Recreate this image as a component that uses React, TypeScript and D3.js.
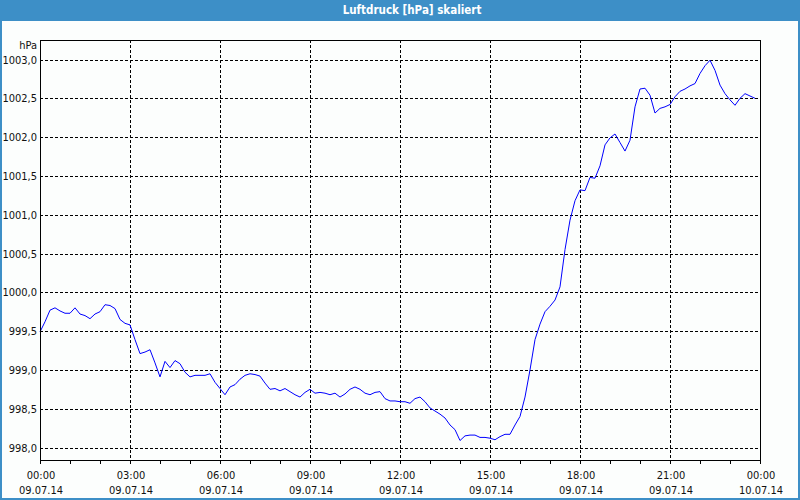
import { useEffect, useRef } from "react";
import * as d3 from "d3";

// Luftdruck, 10-minute readings from 09.07.14 00:00
const startTime = new Date(2014, 6, 9, 0, 0);
const endTime = new Date(2014, 6, 10, 0, 0);
const stepMinutes = 10;
const pressure = [
  999.49, 999.62, 999.77, 999.8, 999.76, 999.73, 999.73, 999.8, 999.72, 999.7,
  999.66, 999.72, 999.75, 999.84, 999.83, 999.79, 999.65, 999.6, 999.58, 999.39,
  999.21, 999.23, 999.26, 999.09, 998.91, 999.11, 999.03, 999.12, 999.08, 998.97,
  998.91, 998.93, 998.93, 998.93, 998.95, 998.84, 998.76, 998.68, 998.78, 998.81,
  998.88, 998.93, 998.95, 998.94, 998.92, 998.83, 998.75, 998.76, 998.73, 998.76,
  998.72, 998.68, 998.65, 998.71, 998.75, 998.7, 998.71, 998.7, 998.68, 998.7,
  998.65, 998.69, 998.75, 998.78, 998.75, 998.7, 998.68, 998.71, 998.72, 998.63,
  998.6, 998.6, 998.59, 998.59, 998.57, 998.63, 998.65, 998.59, 998.51, 998.47,
  998.43, 998.38, 998.29, 998.23, 998.09, 998.15, 998.16, 998.16, 998.13, 998.13,
  998.12, 998.1, 998.14, 998.17, 998.17, 998.29, 998.4, 998.65, 999.0, 999.39,
  999.59, 999.75, 999.82, 999.9, 1000.07, 1000.55, 1000.93, 1001.18, 1001.32, 1001.31,
  1001.48, 1001.47, 1001.63, 1001.9, 1001.99, 1002.04, 1001.93, 1001.82, 1001.96, 1002.39,
  1002.62, 1002.63, 1002.54, 1002.31, 1002.37, 1002.39, 1002.42, 1002.52, 1002.59, 1002.62,
  1002.66, 1002.69, 1002.82, 1002.92, 1002.99, 1002.86, 1002.67, 1002.56, 1002.48, 1002.41,
  1002.5, 1002.56, 1002.53, 1002.5,
];
const yTicks = [998.0, 998.5, 999.0, 999.5, 1000.0, 1000.5, 1001.0, 1001.5, 1002.0, 1002.5, 1003.0];

const FONT = "'DejaVu Sans Condensed', 'DejaVu Sans', sans-serif";
const BLUE = "#3d8fc7";

export default function App() {
  const svgRef = useRef<SVGSVGElement>(null);

  useEffect(() => {
    if (!svgRef.current) return;
    const W = 800, H = 500;
    const left = 40, right = 760, top = 40, bottom = 460;

    const svg = d3.select(svgRef.current);
    svg.selectAll("*").remove();

    // window frame + title bar
    svg.append("rect").attr("width", W).attr("height", H).attr("fill", BLUE);
    svg.append("rect").attr("x", 2).attr("y", 21).attr("width", W - 4).attr("height", H - 23).attr("fill", "#fcfefd");
    svg.append("text")
      .attr("x", 412).attr("y", 14)
      .attr("text-anchor", "middle")
      .attr("fill", "#fff")
      .attr("font-family", FONT)
      .attr("font-size", 11.5)
      .attr("font-weight", "bold")
      .text("Luftdruck [hPa] skaliert");

    const x = d3.scaleTime().domain([startTime, endTime]).range([left, right]);
    const y = d3.scaleLinear().domain([998, 1003]).range([447.5, 59.5]);

    const g = svg.append("g");

    // grid
    g.selectAll(".hgrid")
      .data(yTicks)
      .enter()
      .append("line")
      .attr("x1", left).attr("x2", right)
      .attr("y1", d => Math.round(y(d)) + 0.5).attr("y2", d => Math.round(y(d)) + 0.5)
      .attr("stroke", "#000").attr("stroke-dasharray", "3,2");

    const majors = d3.timeHour.every(3)!.range(startTime, d3.timeMinute.offset(endTime, 1));
    g.selectAll(".vgrid")
      .data(majors.filter(d => +d > +startTime && +d < +endTime))
      .enter()
      .append("line")
      .attr("x1", d => Math.round(x(d)) + 0.5).attr("x2", d => Math.round(x(d)) + 0.5)
      .attr("y1", top).attr("y2", bottom)
      .attr("stroke", "#000").attr("stroke-dasharray", "3,2");

    // line
    const line = d3.line<number>()
      .x((_, i) => x(d3.timeMinute.offset(startTime, i * stepMinutes)))
      .y(d => y(d));
    g.append("path")
      .datum(pressure)
      .attr("d", line)
      .attr("fill", "none")
      .attr("stroke", "#0000ff")
      .attr("stroke-width", 1);

    // frame
    g.append("rect")
      .attr("x", left + 0.5).attr("y", top + 0.5)
      .attr("width", right - left).attr("height", bottom - top)
      .attr("fill", "none").attr("stroke", "#000");

    // x axis ticks (hourly)
    const hours = d3.timeHour.range(startTime, d3.timeMinute.offset(endTime, 1));
    g.selectAll(".xtick")
      .data(hours)
      .enter()
      .append("line")
      .attr("x1", d => Math.round(x(d)) + 0.5).attr("x2", d => Math.round(x(d)) + 0.5)
      .attr("y1", bottom).attr("y2", bottom + 4)
      .attr("stroke", "#000");

    const fmtT = d3.timeFormat("%H:%M");
    const fmtD = d3.timeFormat("%d.%m.%y");
    const xl = g.selectAll(".xlab").data(majors).enter().append("g");
    xl.append("text")
      .attr("x", d => x(d) + 1).attr("y", 479)
      .attr("text-anchor", "middle")
      .attr("font-family", FONT).attr("font-size", 11).attr("fill", "#111")
      .text(d => fmtT(d));
    xl.append("text")
      .attr("x", d => x(d) + 1).attr("y", 494)
      .attr("text-anchor", "middle")
      .attr("font-family", FONT).attr("font-size", 11).attr("fill", "#111")
      .text(d => fmtD(d));

    // y labels
    const fmtY = (v: number) => v.toFixed(1).replace(".", ",");
    g.selectAll(".ylab")
      .data(yTicks)
      .enter()
      .append("text")
      .attr("x", 37).attr("y", d => y(d) + 4)
      .attr("text-anchor", "end")
      .attr("font-family", FONT).attr("font-size", 11).attr("fill", "#111")
      .text(d => fmtY(d));
    g.append("text")
      .attr("x", 37).attr("y", 49)
      .attr("text-anchor", "end")
      .attr("font-family", FONT).attr("font-size", 11).attr("fill", "#111")
      .text("hPa");
  }, []);

  return (
    <div>
      <style>{`body{margin:0}`}</style>
      <svg ref={svgRef} width={800} height={500} style={{ display: "block" }}></svg>
    </div>
  );
}
